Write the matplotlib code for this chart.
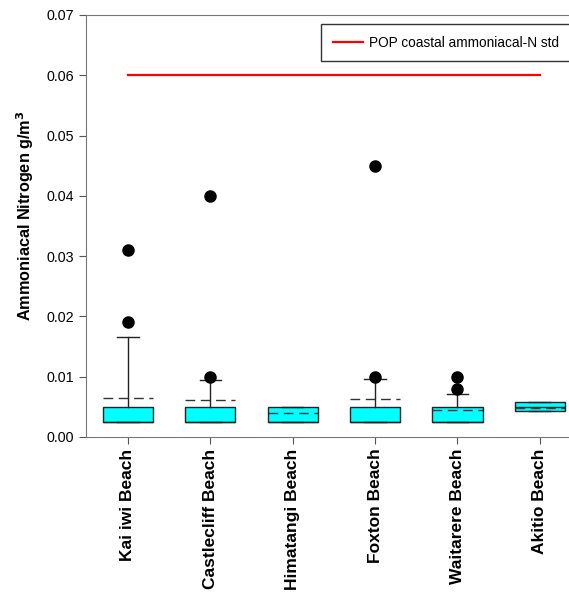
import matplotlib
matplotlib.use("Agg")
import matplotlib.pyplot as plt

plt.rcParams["font.family"] = ["Liberation Sans", "DejaVu Sans"]

# per-beach box statistics (g/m3)
beaches = ["Kai iwi Beach", "Castlecliff Beach", "Himatangi Beach",
           "Foxton Beach", "Waitarere Beach", "Akitio Beach"]
q1 = [0.0025, 0.0025, 0.0025, 0.0025, 0.0025, 0.0043]
median = [0.0025, 0.0025, 0.0025, 0.0025, 0.0025, 0.0050]
q3 = [0.0050, 0.0050, 0.0050, 0.0050, 0.0050, 0.0058]
whisker_lo = [0.0025, 0.0025, 0.0025, 0.0025, 0.0025, 0.0043]
whisker_hi = [0.0166, 0.0095, 0.0050, 0.0096, 0.0071, 0.0058]
means = [0.0065, 0.0061, 0.0040, 0.0063, 0.0045, 0.0048]
outliers = [[0.019, 0.031], [0.010, 0.040], [], [0.010, 0.045],
            [0.008, 0.010], []]

std_value = 0.06
std_label = "POP coastal ammoniacal-N std"

stats = []
for i, name in enumerate(beaches):
    stats.append({
        "label": name, "q1": q1[i], "med": median[i], "q3": q3[i],
        "whislo": whisker_lo[i], "whishi": whisker_hi[i],
        "mean": means[i], "fliers": outliers[i],
    })

fig = plt.figure(figsize=(5.69, 6.0), dpi=100)
ax = fig.add_axes([0.151, 0.272, 0.87, 0.703])

positions = list(range(1, len(beaches) + 1))
ax.bxp(stats, positions=positions, widths=0.61, patch_artist=True,
       showmeans=True, meanline=True, showfliers=True,
       boxprops=dict(facecolor="#00FFFF", edgecolor="#222222", linewidth=1.0),
       medianprops=dict(color="#222222", linewidth=1.0),
       whiskerprops=dict(color="#222222", linewidth=1.0),
       capprops=dict(color="#222222", linewidth=1.0),
       capwidths=0.26,
       meanprops=dict(color="#333333", linestyle=(0, (7, 4)), linewidth=1.0),
       flierprops=dict(marker="o", markerfacecolor="black",
                       markeredgecolor="black", markersize=8))

ax.plot(positions, [std_value] * len(positions), color="#FF0000",
        linewidth=1.6, label=std_label)

ax.set_xlim(0.49, 6.5)
ax.set_ylim(0, 0.07)
ax.set_yticks([0, 0.01, 0.02, 0.03, 0.04, 0.05, 0.06, 0.07])
ax.set_yticklabels([f"{v:.2f}" for v in ax.get_yticks()], fontsize=10.3)
ax.set_xticks(positions)
ax.set_xticklabels(beaches, rotation=90, fontsize=12.5, fontweight="bold")
ax.set_ylabel("Ammoniacal Nitrogen g/m$^\\mathbf{3}$", fontsize=11.7,
              fontweight="bold")
ax.yaxis.set_label_coords(-0.1, 0.525)

for side in ["left", "bottom", "top"]:
    ax.spines[side].set_color("#777777")
ax.spines["right"].set_visible(False)
ax.tick_params(direction="out", length=5, color="#555555")

leg = ax.legend(loc="upper left", bbox_to_anchor=(321 / 569, 576 / 600),
                bbox_transform=fig.transFigure, fontsize=9.8, frameon=True,
                fancybox=False, borderpad=0.85, handlelength=2.2,
                handletextpad=0.5, borderaxespad=0)
leg.get_frame().set_edgecolor("black")
leg.get_frame().set_linewidth(1.0)

fig.savefig("out.png", dpi=100)
